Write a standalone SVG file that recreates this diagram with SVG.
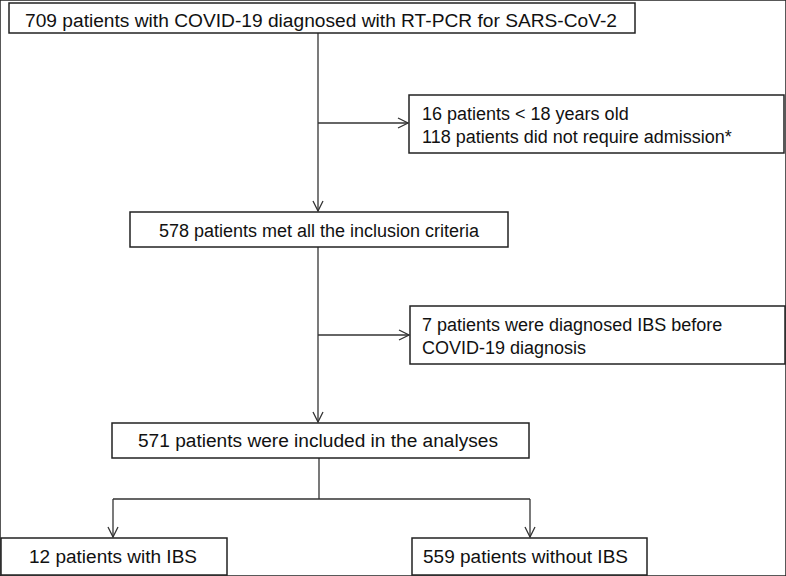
<svg xmlns="http://www.w3.org/2000/svg" width="786" height="576" viewBox="0 0 786 576">
<style>
rect{fill:#fff;stroke:#222;stroke-width:1.5}
text{font-family:"Liberation Sans",Arial,sans-serif;font-size:18px;fill:#111}
.c{stroke:#333;stroke-width:1.3;fill:none}
</style>
<defs><marker id="a" viewBox="0 0 12 12" refX="11" refY="6" markerWidth="12" markerHeight="12" markerUnits="userSpaceOnUse" orient="auto"><path d="M1,1 L11,6 L1,11" fill="none" stroke="#333" stroke-width="1.3"/></marker></defs>
<rect width="786" height="576" fill="#fff" stroke="none"/>
<g id="connectors">
<path class="c" d="M318,33 V211" marker-end="url(#a)"/>
<path class="c" d="M318,123 H408" marker-end="url(#a)"/>
<path class="c" d="M318,247 V422" marker-end="url(#a)"/>
<path class="c" d="M318,335 H409" marker-end="url(#a)"/>
<path class="c" d="M319,458 V499 M113,499 H530"/>
<path class="c" d="M113,499 V537" marker-end="url(#a)"/>
<path class="c" d="M530,499 V537" marker-end="url(#a)"/>
</g>
<g id="n1"><rect x="9" y="3" width="626" height="30"/><text x="25" y="27" font-size="20" textLength="592" lengthAdjust="spacingAndGlyphs">709 patients with COVID-19 diagnosed with RT-PCR for SARS-CoV-2</text></g>
<g id="n2"><rect x="409" y="95" width="375" height="58"/><text x="422" y="120">16 patients &lt; 18 years old</text><text x="422" y="143">118 patients did not require admission*</text></g>
<g id="n3"><rect x="130" y="212" width="378" height="35"/><text x="319" y="237" text-anchor="middle">578 patients met all the inclusion criteria</text></g>
<g id="n4"><rect x="410" y="306" width="375" height="58"/><text x="422" y="331">7 patients were diagnosed IBS before</text><text x="422" y="354">COVID-19 diagnosis</text></g>
<g id="n5"><rect x="112" y="423" width="417" height="35"/><text x="138" y="447" textLength="360" lengthAdjust="spacingAndGlyphs">571 patients were included in the analyses</text></g>
<g id="n6"><rect x="1" y="538" width="226" height="37"/><text x="29" y="563" textLength="168" lengthAdjust="spacingAndGlyphs">12 patients with IBS</text></g>
<g id="n7"><rect x="412" y="538" width="235" height="37"/><text x="423" y="563" textLength="205" lengthAdjust="spacingAndGlyphs">559 patients without IBS</text></g>
</svg>
